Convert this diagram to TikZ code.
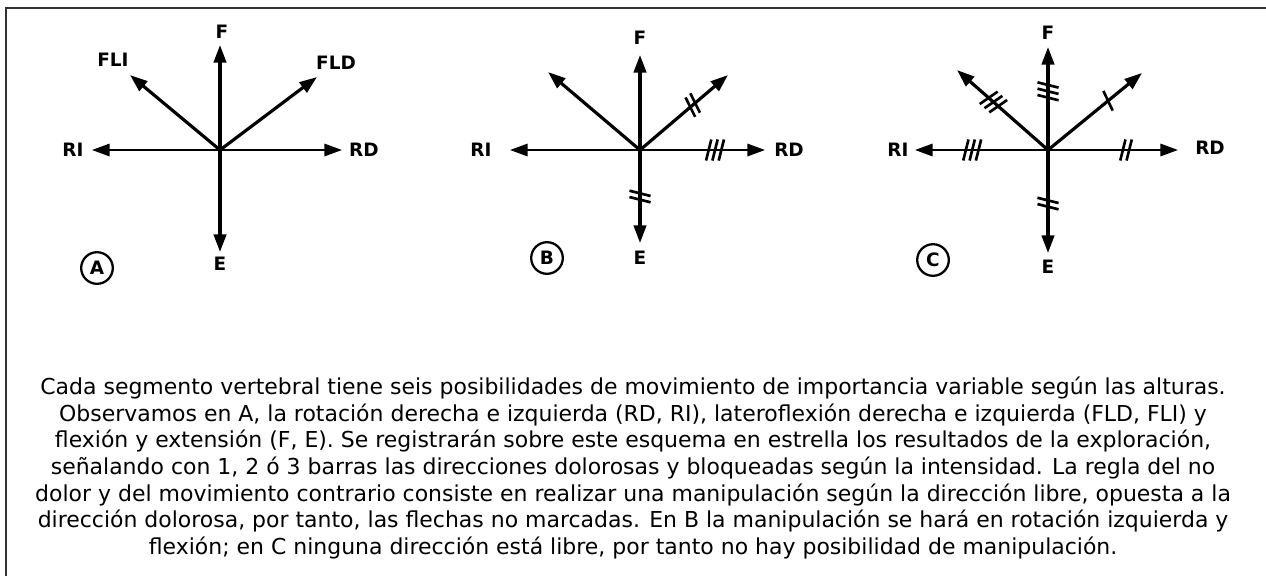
\documentclass[tikz,border=0pt]{standalone}
\usepackage{fontspec}
\setmainfont{DejaVu Sans}
\usetikzlibrary{arrows.meta,decorations.markings}

\tikzset{
  ray/.style={line width=1.8pt, -{Triangle[length=10pt,width=7pt]}},
  hray/.style={ray, line width=1.2pt},
  lbl/.style={font=\fontsize{10.5}{10.5}\selectfont\bfseries, inner sep=0pt},
  tag/.style={circle, draw, line width=1.3pt, minimum size=18pt, inner sep=0pt,
    font=\fontsize{10.5}{10.5}\selectfont\bfseries},
  barline/.style={line width=1.5pt, -},
  bars/.style 2 args={postaction={decorate, decoration={markings,
    mark=at position #1 with {\foreach \k in {1,...,#2}
      {\draw[barline] ({(\k-(#2+1)/2)*3.6pt-1.5pt},-6pt) -- ({(\k-(#2+1)/2)*3.6pt+1.5pt},6pt);}}}}},
}

\begin{document}
\begin{tikzpicture}[x=0.02cm, y=-0.02cm]
\useasboundingbox (0,0) rectangle (1266,576);
\draw[line width=1.2pt, black!80] (6,576) -- (6,8) -- (1266,8);

% A
\coordinate (aO) at (220,150);
\coordinate (aF) at (220,45);
\coordinate (aE) at (220,252);
\coordinate (aRI) at (92,150);
\coordinate (aRD) at (342,150);
\coordinate (aFLI) at (130,75);
\coordinate (aFLD) at (317,77);
\node (aFt) at (222,32) [lbl] {F};
\node (aEt) at (220,264) [lbl] {E};
\node (aRIt) at (73,150) [lbl] {RI};
\node (aRDt) at (364,150) [lbl] {RD};
\node (aFLIt) at (113,60) [lbl] {FLI};
\node (aFLDt) at (336,63) [lbl] {FLD};
\node (aTag) at (97,268) [tag] {A};

\draw[ray] (aO) to (aF);
\draw[ray] (aO) to (aE);
\draw[hray] (aO) to (aRI);
\draw[hray] (aO) to (aRD);
\draw[ray] (aO) to (aFLI);
\draw[ray] (aO) to (aFLD);

% B
\coordinate (bO) at (640,150);
\coordinate (bF) at (640,55);
\coordinate (bE) at (640,243);
\coordinate (bRI) at (510,150);
\coordinate (bRD) at (765,150);
\coordinate (bFLI) at (548,72);
\coordinate (bFLD) at (728,75);
\node (bFt) at (640,38) [lbl] {F};
\node (bEt) at (640,258) [lbl] {E};
\node (bRIt) at (481,150) [lbl] {RI};
\node (bRDt) at (789,150) [lbl] {RD};
\node (bTag) at (547,258) [tag] {B};

\draw[ray] (bO) to (bF);
\draw[ray, bars={0.5}{2}] (bO) to (bE);
\draw[hray] (bO) to (bRI);
\draw[hray, bars={0.6}{3}] (bO) to (bRD);
\draw[ray] (bO) to (bFLI);
\draw[ray, bars={0.6}{2}] (bO) to (bFLD);

% C
\coordinate (cO) at (1048,150);
\coordinate (cF) at (1048,47);
\coordinate (cE) at (1048,253);
\coordinate (cRI) at (915,150);
\coordinate (cRD) at (1178,150);
\coordinate (cFLI) at (957,70);
\coordinate (cFLD) at (1142,73);
\node (cFt) at (1048,33) [lbl] {F};
\node (cEt) at (1048,267) [lbl] {E};
\node (cRIt) at (898,150) [lbl] {RI};
\node (cRDt) at (1210,148) [lbl] {RD};
\node (cTag) at (933,260) [tag] {C};

\draw[ray, bars={0.57}{3}] (cO) to (cF);
\draw[ray, bars={0.52}{2}] (cO) to (cE);
\draw[hray, bars={0.57}{3}] (cO) to (cRI);
\draw[hray, bars={0.6}{2}] (cO) to (cRD);
\draw[ray, bars={0.6}{3}] (cO) to (cFLI);
\draw[ray, bars={0.64}{1}] (cO) to (cFLD);

\node (note) at (633,468) [align=center, inner sep=0pt,
  font=\fontsize{12.5}{15.2}\selectfont] {%
Cada segmento vertebral tiene seis posibilidades de movimiento de importancia variable según las alturas.\\
Observamos en A, la rotación derecha e izquierda (RD, RI), lateroflexión derecha e izquierda (FLD, FLI) y\\
flexión y extensión (F, E). Se registrarán sobre este esquema en estrella los resultados de la exploración,\\
señalando con 1, 2 ó 3 barras las direcciones dolorosas y bloqueadas según la intensidad. La regla del no\\
dolor y del movimiento contrario consiste en realizar una manipulación según la dirección libre, opuesta a la\\
dirección dolorosa, por tanto, las flechas no marcadas. En B la manipulación se hará en rotación izquierda y\\
flexión; en C ninguna dirección está libre, por tanto no hay posibilidad de manipulación.};
\end{tikzpicture}
\end{document}
